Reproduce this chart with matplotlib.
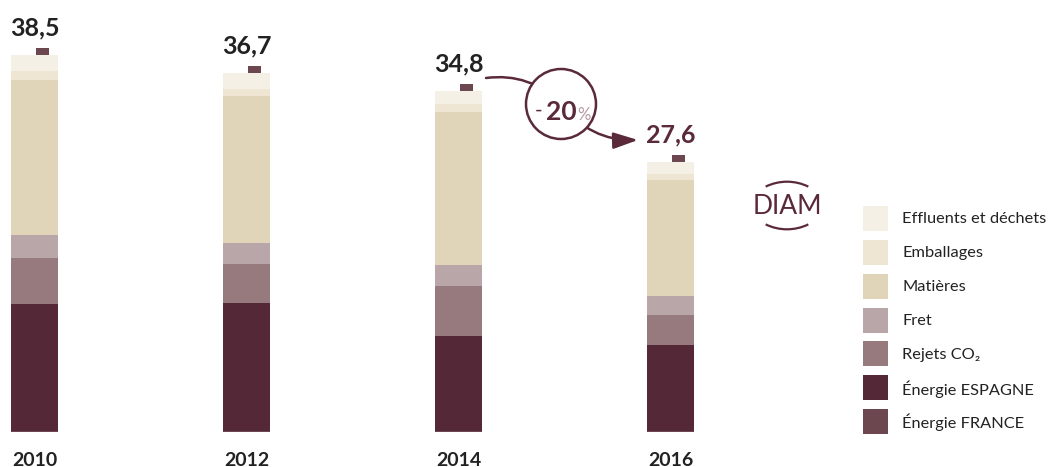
import matplotlib
matplotlib.use("Agg")
import matplotlib.pyplot as plt
import numpy as np
from matplotlib.patches import Rectangle, Circle, Arc

plt.rcParams['font.family'] = ['Lato', 'DejaVu Sans']

# data
years = ['2010', '2012', '2014', '2016']
total_labels = ['38,5', '36,7', '34,8', '27,6']
energie_france = [0.15, 0.15, 0.15, 0.15]
energie_espagne = [12.92, 13.05, 9.68, 8.73]
rejets_co2 = [4.70, 3.95, 5.08, 3.06]
fret = [2.35, 2.18, 2.15, 1.94]
matieres = [15.83, 14.98, 15.62, 11.85]
emballages = [0.92, 0.76, 0.82, 0.61]
effluents = [1.63, 1.63, 1.30, 1.26]
top_marker = [0.7, 0.7, 0.7, 0.7]
reduction_label = '20'

series = [
    ('Énergie FRANCE', energie_france, '#6c4750'),
    ('Énergie ESPAGNE', energie_espagne, '#552837'),
    ('Rejets CO₂', rejets_co2, '#977a7e'),
    ('Fret', fret, '#b9a6a8'),
    ('Matières', matieres, '#e1d5b9'),
    ('Emballages', emballages, '#eee6d3'),
    ('Effluents et déchets', effluents, '#f4f0e5'),
]

W, H = 1051, 467
fig = plt.figure(figsize=(W / 100, H / 100), dpi=100)

# main axes: bars in data coords
ax = fig.add_axes([0, 0, 1, 1])
px_per_x = 212.0
px_per_y = 9.79
x0_px, base_px = 34.5, 432.0
ax.set_xlim(-x0_px / px_per_x, (W - x0_px) / px_per_x)
ax.set_ylim(-(H - base_px) / px_per_y, base_px / px_per_y)
ax.axis('off')

x = np.arange(len(years))
bar_w = 47 / px_per_x
bottom = np.zeros(len(years))
for name, vals, col in series:
    ax.bar(x, vals, bar_w, bottom=bottom, color=col, linewidth=0, zorder=2)
    bottom += np.array(vals)

# little square on top of each bar
ax.bar(x + 8 / px_per_x, top_marker, 13 / px_per_x, bottom=bottom,
       color='#6c4750', linewidth=0, zorder=2)

for i, lab in enumerate(total_labels):
    col = '#5a2a3a' if i == len(total_labels) - 1 else '#222222'
    ax.text(x[i], bottom[i] + 2.0, lab, ha='center', va='baseline',
            fontsize=18, fontweight='bold', color=col)
    ax.text(x[i], -(466 - base_px) / px_per_y, years[i], ha='center',
            va='baseline', fontsize=14, fontweight='bold', color='#222222')

# overlay axes in pixel coordinates for decorations
pa = fig.add_axes([0, 0, 1, 1], facecolor='none')
pa.set_xlim(0, W)
pa.set_ylim(H, 0)
pa.axis('off')

dark = '#5a2a3a'
# arrow through the circle
pa.annotate('', xy=(561, 104), xytext=(486, 78),
            arrowprops=dict(arrowstyle='-', color=dark, lw=1.8,
                            shrinkA=0, shrinkB=0,
                            connectionstyle='arc3,rad=-0.25'))
pa.annotate('', xy=(638, 140), xytext=(561, 104),
            arrowprops=dict(arrowstyle='-|>,head_length=1.5,head_width=0.5',
                            mutation_scale=10, color=dark, lw=1.8,
                            shrinkA=0, shrinkB=0,
                            connectionstyle='arc3,rad=0.25'))
pa.add_patch(Circle((561, 104), 35, facecolor='white', edgecolor=dark,
                    lw=1.8, zorder=5))
pa.text(539, 111, '-', ha='center', va='center', fontsize=15, color=dark, zorder=6)
pa.text(561, 112, reduction_label, ha='center', va='center', fontsize=19,
        fontweight='bold', color=dark, zorder=6)
pa.text(584, 115, '%', ha='center', va='center', fontsize=12,
        color='#b39aa2', zorder=6)

# DIAM logo
pa.text(787, 206.5, 'DIAM', ha='center', va='center', fontsize=19,
        fontweight='normal', color=dark)
pa.add_patch(Arc((787, 230.4), 97.4, 97.4, theta1=-116, theta2=-64,
                 color=dark, lw=1.6))
pa.add_patch(Arc((787, 180.6), 97.4, 97.4, theta1=64, theta2=116,
                 color=dark, lw=1.6))

# legend
leg_y0, leg_dy = 218.3, 33.9
for k, (name, vals, col) in enumerate(series[::-1]):
    cy = leg_y0 + k * leg_dy
    pa.add_patch(Rectangle((863, cy - 12.5), 25, 25, facecolor=col,
                           edgecolor='none'))
    pa.text(902, cy + 1, name, ha='left', va='center', fontsize=11.8,
            color='#222222')

fig.savefig('out.png', dpi=100)
